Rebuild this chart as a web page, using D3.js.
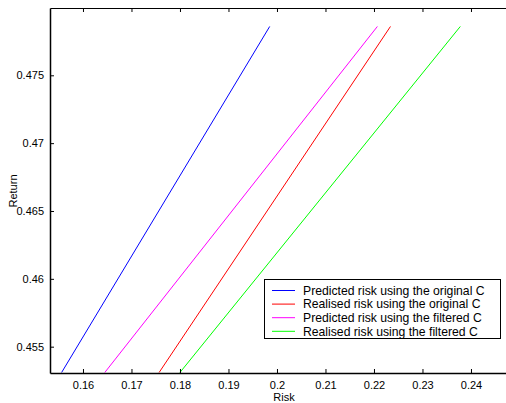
<!DOCTYPE html>
<html><head><meta charset="utf-8">
<script src="https://cdn.jsdelivr.net/npm/d3@7"></script>
<style>body{margin:0;background:#fff}svg{display:block}text{font-family:"Liberation Sans",Arial,sans-serif;fill:#000}</style>
</head><body><svg id="c" width="506" height="403"></svg>
<script>
const returns = [0.4531, 0.4786];
const predictedOriginal = [0.1556, 0.1985];
const realisedOriginal = [0.1757, 0.2234];
const predictedFiltered = [0.1645, 0.2207];
const realisedFiltered = [0.1800, 0.2378];
const seriesNames = ["Predicted risk using the original C","Realised risk using the original C","Predicted risk using the filtered C","Realised risk using the filtered C"];
const seriesColors = ["#0000ff","#ff0000","#ff00ff","#00ff00"];
const xTicks = [0.16,0.17,0.18,0.19,0.2,0.21,0.22,0.23,0.24];
const yTicks = [0.455,0.46,0.465,0.47,0.475];

const L=50,R=506,T=8,B=373;
const x = d3.scaleLinear().domain([0.1532,0.24722]).range([L,R]);
const y = d3.scaleLinear().domain([0.45306,0.47996]).range([B,T]);
const svg = d3.select("#c");
svg.append("defs").append("clipPath").attr("id","clip").append("rect").attr("x",L).attr("y",T).attr("width",R-L).attr("height",B-T);

const all=[predictedOriginal,realisedOriginal,predictedFiltered,realisedFiltered];
const line=d3.line().x(d=>x(d[0])).y(d=>y(d[1]));
const g=svg.append("g").attr("clip-path","url(#clip)");
all.forEach((s,i)=>{
  g.append("path").datum(s.map((v,j)=>[v,returns[j]])).attr("d",line).attr("fill","none").attr("stroke",seriesColors[i]).attr("stroke-width",1);
});

const fmt=d=>String(+d.toFixed(3));
const ax=svg.append("g").attr("transform",`translate(0,${B})`).call(d3.axisBottom(x).tickValues(xTicks).tickFormat(fmt).tickSizeInner(-4).tickSizeOuter(0).tickPadding(8));
const axT=svg.append("g").attr("transform",`translate(0,${T})`).call(d3.axisTop(x).tickValues(xTicks).tickFormat("").tickSizeInner(-4).tickSizeOuter(0));
const ay=svg.append("g").attr("transform",`translate(${L},0)`).call(d3.axisLeft(y).tickValues(yTicks).tickFormat(fmt).tickSizeInner(4).tickSizeOuter(0).tickPadding(2));
ay.selectAll(".tick line").attr("x2",4);
[ax,axT,ay].forEach(a=>{a.selectAll("text").attr("font-size",11).attr("font-family","Liberation Sans, Arial, sans-serif").attr("fill","#000");a.selectAll("line,path").attr("stroke","#000");});
ax.select(".domain").attr("stroke-width",1.5);
ay.select(".domain").attr("stroke-width",1.5);

svg.append("text").attr("x",284).attr("y",401).attr("text-anchor","middle").attr("font-size",11).text("Risk");
svg.append("text").attr("transform","translate(17,191) rotate(-90)").attr("text-anchor","middle").attr("font-size",11).text("Return");

const lg=svg.append("g");
lg.append("rect").attr("x",264.5).attr("y",279.5).attr("width",236).attr("height",59).attr("fill","#fff").attr("stroke","#000").attr("stroke-width",1);
seriesNames.forEach((n,i)=>{
  const yy=290.5+i*13.6;
  lg.append("line").attr("x1",272).attr("x2",295).attr("y1",yy).attr("y2",yy).attr("stroke",seriesColors[i]).attr("stroke-width",1);
  lg.append("text").attr("x",303).attr("y",yy+4.3).attr("font-size",12.2).text(n);
});
</script></body></html>
